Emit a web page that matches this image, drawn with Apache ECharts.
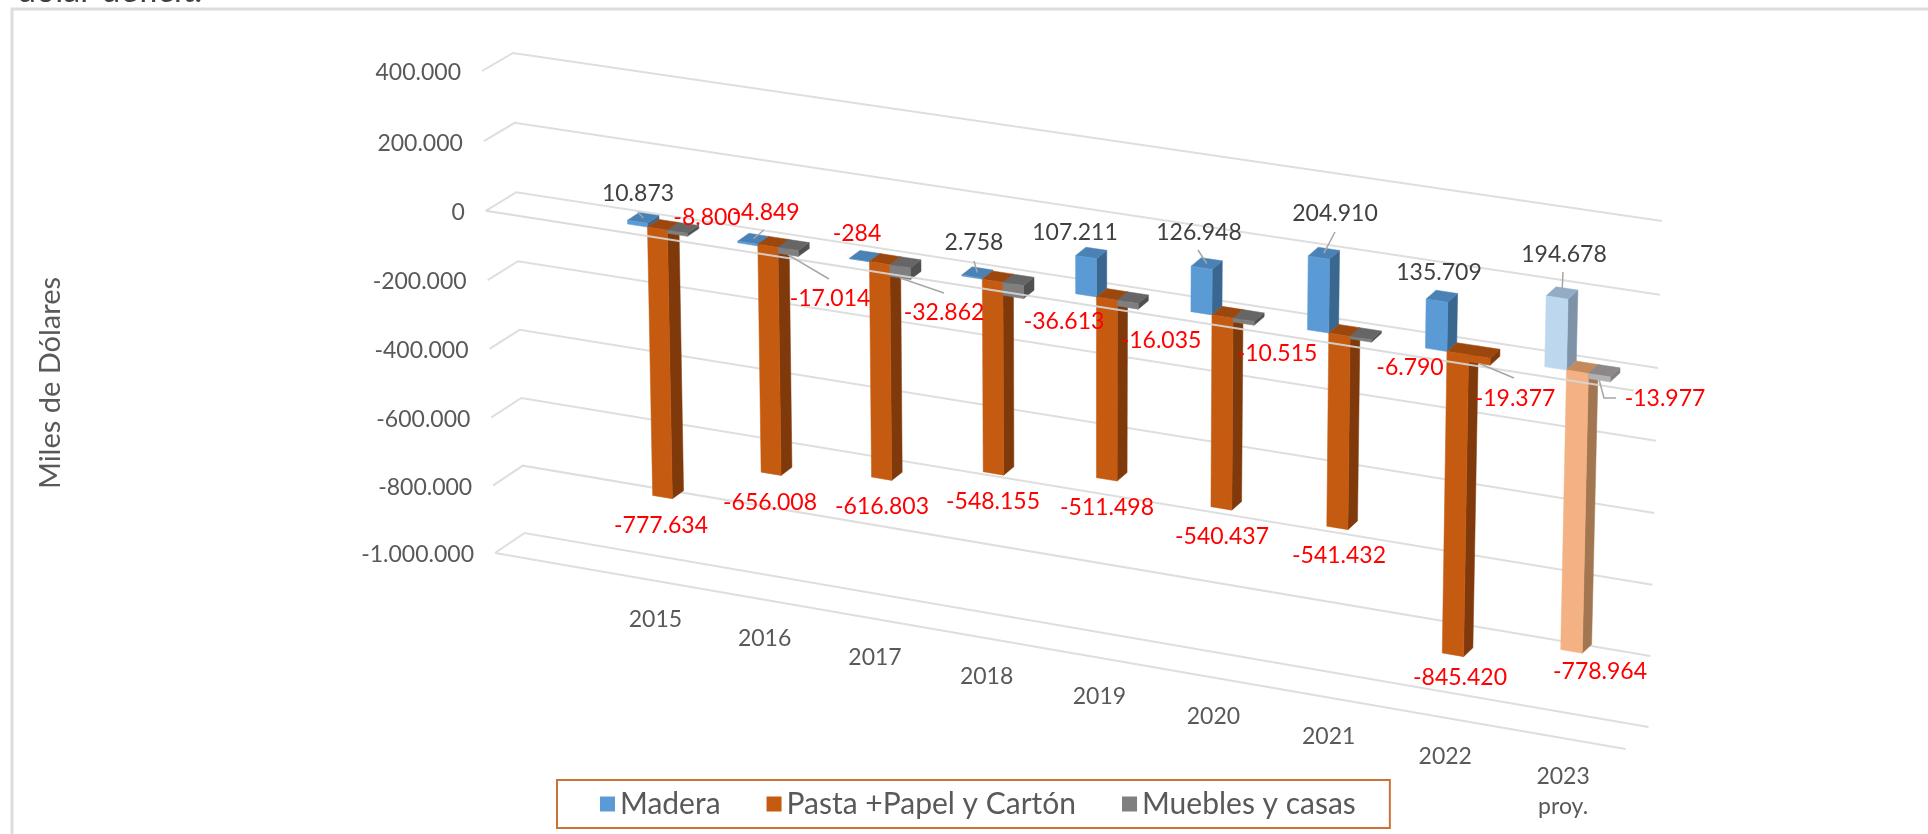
<!DOCTYPE html>
<html>
<head>
<meta charset="utf-8">
<title>Madera, Pasta y Muebles</title>
<script src="https://cdn.jsdelivr.net/npm/echarts@6/dist/echarts.min.js"></script>
<style>
  html, body { margin: 0; padding: 0; background: #fff; }
  #chart { width: 1928px; height: 834px; }
</style>
</head>
<body>
<div id="chart"></div>
<script>
// Datos
const categories = ['2015', '2016', '2017', '2018', '2019', '2020', '2021', '2022', '2023\nproy.'];
const madera = [10873, -4849, -284, 2758, 107211, 126948, 204910, 135709, 194678];
const pasta = [-777634, -656008, -616803, -548155, -511498, -540437, -541432, -845420, -778964];
const muebles = [-8800, -17014, -32862, -36613, -16035, -10515, -6790, -19377, -13977];
const yTicks = [400000, 200000, 0, -200000, -400000, -600000, -800000, -1000000];
const seriesNames = ['Madera', 'Pasta +Papel y Cartón', 'Muebles y casas'];
const seriesValues = [madera, pasta, muebles];

// Posicion de las etiquetas (movidas a mano en el original), en pixeles
const labelPos = [
    [[638, 194], [766, 213], [857, 234], [974, 243], [1075, 233], [1199, 233], [1335, 214], [1439, 273], [1564, 255]],
    [[661, 526], [770, 503], [882, 507], [993, 502], [1107, 508], [1222, 537], [1339, 556], [1460, 678], [1600, 672]],
    [[707, 218], [830, 299], [944, 313], [1064, 322], [1161, 341], [1277, 354], [1410, 368], [1515, 399], [1665, 399]]
];
// Lineas guia: salida relativa a la etiqueta; el otro extremo sale de la barra
const leaders = {
    '0-0': [[0, 18]], '0-1': [[-2, 17]], '0-3': [[0, 18]], '0-5': [[-1, 17]], '0-6': [[0, 18]], '0-8': [[-1, 17]],
    '2-1': [[-1, -20]], '2-2': [[0, -20]], '2-7': [[-1, -21]], '2-8': [[-49, -1], [-61, -1]]
};

// Colores de las caras
const faces = [
    { front: '#5B9BD5', side: '#3A678F', cap: '#4A82B5' },
    { front: '#C55A11', side: '#7F390A', cap: '#9C470D' },
    { front: '#7F7F7F', side: '#505050', cap: '#666666' }
];
const facesProy = [
    { front: '#BDD7EE', side: '#7F93A8', cap: '#93ACC6' },
    { front: '#F4B183', side: '#A27650', cap: '#C48A5E' },
    { front: '#B2B2B2', side: '#808080', cap: '#8C8888' }
];

const textFont = 'Lato';
const gridLeft = 100, gridWidth = 1700, gridTop = 71, gridHeight = 482;

// Caja 3D: esquinas del plano frontal y del fondo, en pixeles
const frontQuad = [[482, 71], [1637, 244], [1625.5, 749], [495, 553]];
const backQuad = [[513, 53], [1662, 221], [1648.5, 727], [524.5, 533]];
const depthFront = 0.38, depthBack = 0.78;
const slotScale = 0.899, slotOffset = 0.0968, barRatio = 0.1815;

function homography(q) {
    const [x0, y0] = q[0], [x1, y1] = q[1], [x2, y2] = q[2], [x3, y3] = q[3];
    const dx1 = x1 - x2, dx2 = x3 - x2, sx = x0 - x1 + x2 - x3;
    const dy1 = y1 - y2, dy2 = y3 - y2, sy = y0 - y1 + y2 - y3;
    const den = dx1 * dy2 - dx2 * dy1;
    const g = (sx * dy2 - dx2 * sy) / den;
    const h = (dx1 * sy - sx * dy1) / den;
    const a = x1 - x0 + g * x1, b = x3 - x0 + h * x3;
    const d = y1 - y0 + g * y1, e = y3 - y0 + h * y3;
    return (s, t) => {
        const w = g * s + h * t + 1;
        return [(a * s + b * t + x0) / w, (d * s + e * t + y0) / w];
    };
}
const frontMap = homography(frontQuad);
const backMap = homography(backQuad);

// s = a lo largo del eje, t = altura (0 arriba), w = profundidad
function project(s, t, w) {
    const f = frontMap(s, t), b = backMap(s, t);
    return [f[0] + (b[0] - f[0]) * w, f[1] + (b[1] - f[1]) * w];
}
// Pasa del pixel que da la escala de ECharts a la caja 3D
function toBox(coord) {
    return [
        slotOffset + slotScale * (coord[0] - gridLeft) / gridWidth,
        (coord[1] - gridTop) / gridHeight
    ];
}
const slotWidth = slotScale / categories.length;
const barWidth = slotWidth * barRatio;

function fmt(v) {
    const n = String(Math.abs(v)).replace(/\B(?=(\d{3})+$)/g, '.');
    return v < 0 ? '-' + n : n;
}

function poly(points, fill) {
    return { type: 'polygon', silent: true, shape: { points: points }, style: { fill: fill, stroke: fill, lineWidth: 0.5 } };
}
function line(points, stroke, width) {
    return { type: 'polyline', silent: true, shape: { points: points }, style: { stroke: stroke, lineWidth: width, fill: null } };
}
function label(text, x, y, fill, extra) {
    return {
        type: 'text', silent: true,
        style: Object.assign({ text: text, x: x, y: y, fill: fill, fontFamily: textFont, fontSize: 23, align: 'center', verticalAlign: 'middle' }, extra || {})
    };
}

function renderBar(seriesIndex) {
    return function (params, api) {
        const i = api.value(0), v = api.value(1);
        const c0 = toBox(api.coord([i, 0]));
        const c1 = toBox(api.coord([i, v]));
        const sMid = c0[0] + (seriesIndex - 1) * barWidth;
        const sL = sMid - barWidth / 2, sR = sMid + barWidth / 2;
        const tTop = Math.min(c0[1], c1[1]), tBot = Math.max(c0[1], c1[1]);
        let f = i === categories.length - 1 ? facesProy[seriesIndex] : faces[seriesIndex];
        // en 2022 los muebles salen con el color de la pasta
        if (seriesIndex === 2 && i === 7) f = faces[1];
        const P = project;
        return {
            type: 'group',
            children: [
                poly([P(sR, tTop, depthFront), P(sR, tTop, depthBack), P(sR, tBot, depthBack), P(sR, tBot, depthFront)], f.side),
                poly([P(sL, tTop, depthFront), P(sR, tTop, depthFront), P(sR, tTop, depthBack), P(sL, tTop, depthBack)], f.cap),
                poly([P(sL, tTop, depthFront), P(sR, tTop, depthFront), P(sR, tBot, depthFront), P(sL, tBot, depthFront)], f.front)
            ]
        };
    };
}

// Paredes, suelo y rotulos de los ejes
function renderGrid(params, api) {
    const v = api.value(0);
    const t = toBox(api.coord([0, v]))[1];
    const corner = project(0, t, 0);
    const children = [
        line([corner, project(0, t, 1), project(1, t, 1)], '#DEDEDE', 2),
        label(fmt(v), corner[0] - 21, corner[1] + 2, '#595959', { align: 'right' })
    ];
    if (v === yTicks[yTicks.length - 1]) {
        children.push(line([corner, project(1, t, 0)], '#DEDEDE', 2));
    }
    return { type: 'group', children: children };
}

function renderCategory(params, api) {
    const i = api.value(0);
    const c = toBox(api.coord([i, yTicks[yTicks.length - 1]]));
    const p = project(c[0], c[1], 0);
    return label(categories[i], p[0] + 2, p[1] + 24, '#595959', { verticalAlign: 'top', lineHeight: 30 });
}

function renderZeroLine(params, api) {
    const t = toBox(api.coord([0, 0]))[1];
    return line([project(0, t, 0), project(1, t, 0)], 'rgba(215,215,215,0.9)', 2);
}

function renderLabel(params, api) {
    const sIdx = api.value(0), i = api.value(1), v = api.value(2);
    const pos = labelPos[sIdx][i];
    const children = [];
    const guide = leaders[sIdx + '-' + i];
    if (guide) {
        const c0 = toBox(api.coord([i, 0]));
        const cv = toBox(api.coord([i, v]));
        const s = c0[0] + (sIdx - 1) * barWidth;
        // madera: centro de la tapa; muebles: pie de la cara frontal
        const end = sIdx === 0
            ? project(s, Math.min(c0[1], cv[1]), (depthFront + depthBack) / 2)
            : project(s, cv[1], depthFront);
        const pts = guide.map(g => [pos[0] + g[0], pos[1] + g[1]]);
        pts.push(end);
        children.push(line(pts, '#A6A6A6', 1.5));
    }
    children.push(label(fmt(v), pos[0], pos[1], v < 0 ? '#FF0000' : '#404040'));
    return { type: 'group', children: children };
}

const labelData = [];
seriesValues.forEach((values, s) => values.forEach((v, i) => labelData.push([s, i, v])));

const barSeries = seriesNames.map((name, s) => ({
    name: name,
    type: 'custom',
    z: 3,
    silent: true,
    itemStyle: { color: faces[s].front },
    renderItem: renderBar(s),
    encode: { x: 0, y: 1 },
    data: seriesValues[s].map((v, i) => [i, v])
}));

const option = {
    animation: false,
    backgroundColor: '#fff',
    grid: { left: gridLeft, width: gridWidth, top: gridTop, height: gridHeight },
    xAxis: { type: 'category', data: categories, show: false },
    yAxis: { type: 'value', min: -1000000, max: 400000, interval: 200000, show: false },
    legend: {
        data: seriesNames,
        left: 557,
        top: 780,
        padding: [9, 34, 9, 43],
        itemGap: 46,
        itemWidth: 15,
        itemHeight: 15,
        icon: 'rect',
        borderColor: '#CB7238',
        borderWidth: 2,
        textStyle: { fontFamily: textFont, fontSize: 30, color: '#595959', lineHeight: 30 },
        selectedMode: false
    },
    graphic: [
        { type: 'polyline', silent: true, shape: { points: [[12, 834], [12, 9], [1928, 9]] }, style: { stroke: '#DDDDDD', lineWidth: 3, fill: null } },
        { type: 'text', silent: true, x: 17, y: 8, style: { text: 'dólar déficit.', fontFamily: textFont, fontSize: 34, fill: '#404040', align: 'left', verticalAlign: 'bottom' } },
        { type: 'text', silent: true, x: 51, y: 383, rotation: Math.PI / 2, style: { text: 'Miles de Dólares', fontFamily: textFont, fontSize: 29, fill: '#595959', align: 'center', verticalAlign: 'middle' } }
    ],
    series: [
        { name: 'rejilla', type: 'custom', z: 1, silent: true, renderItem: renderGrid, encode: { y: 0 }, data: yTicks.map(v => [v]) },
        { name: 'categorias', type: 'custom', z: 1, silent: true, renderItem: renderCategory, encode: { x: 0 }, data: categories.map((c, i) => [i]) },
        ...barSeries,
        { name: 'eje cero', type: 'custom', z: 4, silent: true, renderItem: renderZeroLine, data: [[0]] },
        { name: 'etiquetas', type: 'custom', z: 5, silent: true, renderItem: renderLabel, data: labelData }
    ]
};

const chart = echarts.init(document.getElementById('chart'));
chart.setOption(option);

window.addEventListener('resize', function () {
    chart.resize();
});
</script>
</body>
</html>
